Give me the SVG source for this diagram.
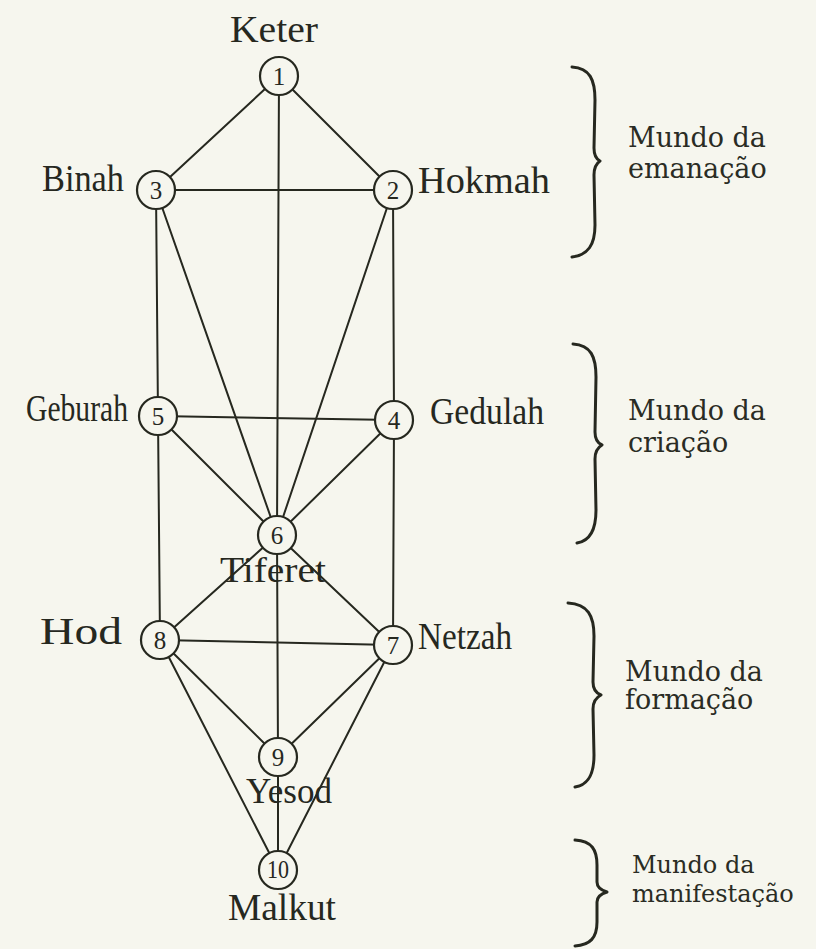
<svg xmlns="http://www.w3.org/2000/svg" width="816" height="949" viewBox="0 0 816 949">
<style>
.bg{fill:#f6f6ee}
.ln{stroke:#26281f;stroke-width:2;fill:none;stroke-linecap:round}
.nd circle{fill:#f6f6ee;stroke:#26281f;stroke-width:2.2}
.num{font-family:"Liberation Serif",serif;font-size:25px;fill:#26281f;text-anchor:middle}
.lbl{font-family:"Liberation Serif",serif;font-size:37px;fill:#26281f}
.lbs{font-family:"Liberation Serif",serif;font-size:35px;fill:#26281f}
.br{stroke:#26281f;stroke-width:3;fill:none;stroke-linecap:round;stroke-linejoin:round}
.mw{font-family:"DejaVu Serif",serif;font-size:27px;fill:#2a2c24}
.mw2{font-family:"DejaVu Serif",serif;font-size:24px;fill:#2a2c24}
</style>
<rect class="bg" x="0" y="0" width="816" height="949"/>
<g id="connectors">
<line class="ln" x1="279" y1="76" x2="156" y2="190"/>
<line class="ln" x1="279" y1="76" x2="393" y2="190"/>
<line class="ln" x1="279" y1="76" x2="277" y2="535"/>
<line class="ln" x1="156" y1="190" x2="393" y2="190"/>
<line class="ln" x1="156" y1="190" x2="158" y2="416"/>
<line class="ln" x1="393" y1="190" x2="394" y2="420"/>
<line class="ln" x1="156" y1="190" x2="277" y2="535"/>
<line class="ln" x1="393" y1="190" x2="277" y2="535"/>
<line class="ln" x1="158" y1="416" x2="394" y2="420"/>
<line class="ln" x1="158" y1="416" x2="277" y2="535"/>
<line class="ln" x1="394" y1="420" x2="277" y2="535"/>
<line class="ln" x1="158" y1="416" x2="160" y2="640"/>
<line class="ln" x1="394" y1="420" x2="393" y2="645"/>
<line class="ln" x1="277" y1="535" x2="160" y2="640"/>
<line class="ln" x1="277" y1="535" x2="393" y2="645"/>
<line class="ln" x1="277" y1="535" x2="278" y2="757"/>
<line class="ln" x1="160" y1="640" x2="393" y2="645"/>
<line class="ln" x1="160" y1="640" x2="278" y2="757"/>
<line class="ln" x1="393" y1="645" x2="278" y2="757"/>
<line class="ln" x1="160" y1="640" x2="278" y2="870"/>
<line class="ln" x1="393" y1="645" x2="278" y2="870"/>
<line class="ln" x1="278" y1="757" x2="278" y2="870"/>
</g>
<g id="n1" class="nd"><circle cx="279" cy="76" r="19"/><text class="num" x="279" y="85">1</text></g>
<g id="n2" class="nd"><circle cx="393" cy="190" r="19"/><text class="num" x="393" y="199">2</text></g>
<g id="n3" class="nd"><circle cx="156" cy="190" r="19"/><text class="num" x="156" y="199">3</text></g>
<g id="n4" class="nd"><circle cx="394" cy="420" r="19"/><text class="num" x="394" y="429">4</text></g>
<g id="n5" class="nd"><circle cx="158" cy="416" r="19"/><text class="num" x="158" y="425">5</text></g>
<g id="n6" class="nd"><circle cx="277" cy="535" r="19"/><text class="num" x="277" y="544">6</text></g>
<g id="n7" class="nd"><circle cx="393" cy="645" r="19"/><text class="num" x="393" y="654">7</text></g>
<g id="n8" class="nd"><circle cx="160" cy="640" r="19"/><text class="num" x="160" y="649">8</text></g>
<g id="n9" class="nd"><circle cx="278" cy="757" r="19"/><text class="num" x="278" y="766">9</text></g>
<g id="n10" class="nd"><circle cx="278" cy="870" r="19"/><text class="num" x="278" y="878" textLength="22" lengthAdjust="spacingAndGlyphs">10</text></g>
<g id="labels">
<text class="lbl" x="230" y="42" textLength="88" lengthAdjust="spacingAndGlyphs">Keter</text>
<text class="lbl" x="42" y="191" textLength="82" lengthAdjust="spacingAndGlyphs">Binah</text>
<text class="lbl" x="418" y="193" textLength="132" lengthAdjust="spacingAndGlyphs">Hokmah</text>
<text class="lbl" x="26" y="421" textLength="102" lengthAdjust="spacingAndGlyphs">Geburah</text>
<text class="lbl" x="430" y="424" textLength="114" lengthAdjust="spacingAndGlyphs">Gedulah</text>
<text class="lbs" x="220" y="582" textLength="106" lengthAdjust="spacingAndGlyphs">Tiferet</text>
<text class="lbl" x="40" y="644" textLength="82" lengthAdjust="spacingAndGlyphs">Hod</text>
<text class="lbl" x="418" y="649" textLength="94" lengthAdjust="spacingAndGlyphs">Netzah</text>
<text class="lbs" x="246" y="803" textLength="86" lengthAdjust="spacingAndGlyphs">Yesod</text>
<text class="lbl" x="228" y="920" textLength="108" lengthAdjust="spacingAndGlyphs">Malkut</text>
</g>
<g id="worlds">
<path class="br" d="M572,67 C590,68 595,80 595,100 L594,148 Q594,158 600,161 Q594,165 594,175 L595,225 C595,245 588,255 572,257"/>
<text class="mw" x="628" y="147">Mundo da</text>
<text class="mw" x="628" y="178">emanação</text>
<path class="br" d="M573,344 C591,345 596,357 596,377 L595,432 Q595,442 602,445 Q595,449 595,459 L596,510 C596,530 590,541 577,543"/>
<text class="mw" x="628" y="420">Mundo da</text>
<text class="mw" x="628" y="452">criação</text>
<path class="br" d="M568,603 C588,604 594,616 594,636 L593,682 Q593,692 601,695 Q593,699 593,709 L594,755 C594,775 588,785 575,787"/>
<text class="mw" x="625" y="681">Mundo da</text>
<text class="mw" x="625" y="709">formação</text>
<path class="br" d="M575,840 C592,841 597,850 597,865 L597,882 Q597,889 607,892 Q597,895 597,902 L597,922 C597,938 590,945 575,946"/>
<text class="mw2" x="632" y="873">Mundo da</text>
<text class="mw2" x="632" y="902">manifestação</text>
</g>
</svg>
